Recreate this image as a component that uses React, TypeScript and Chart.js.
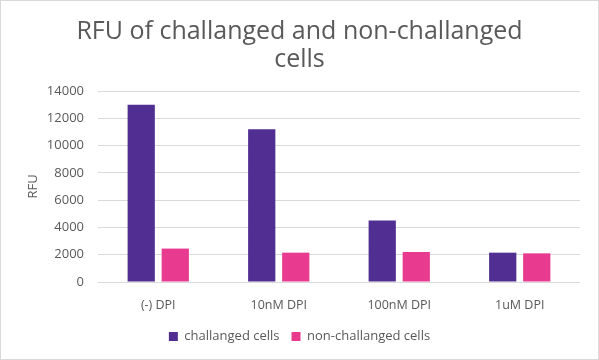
import React, { useEffect, useRef } from "react";
import { Chart, registerables } from "chart.js";

Chart.register(...registerables);

const categories = ["(-) DPI", "10nM DPI", "100nM DPI", "1uM DPI"];
const challanged = [13000, 11200, 4500, 2150];
const nonChallanged = [2450, 2150, 2200, 2100];
const yTicks = [0, 2000, 4000, 6000, 8000, 10000, 12000, 14000];

const FONT = "'Open Sans', 'Noto Sans', sans-serif";
const TEXT = "#595959";

export default function App() {
  const ref = useRef<HTMLCanvasElement | null>(null);
  useEffect(() => {
    document.body.style.margin = "0";
    const ctx = ref.current!;
    const chart = new Chart(ctx, {
      type: "bar",
      data: {
        labels: categories,
        datasets: [
          {
            label: "challanged cells",
            data: challanged,
            backgroundColor: "#512E91",
            categoryPercentage: 0.565,
            barPercentage: 0.8,
          },
          {
            label: "non-challanged cells",
            data: nonChallanged,
            backgroundColor: "#E83A8F",
            categoryPercentage: 0.565,
            barPercentage: 0.8,
          },
        ],
      },
      options: {
        animation: false,
        responsive: false,
        maintainAspectRatio: false,
        layout: { padding: { left: 0, right: 0, top: 0, bottom: 6 } },
        plugins: {
          title: {
            display: true,
            text: ["RFU of challanged and non-challanged", "cells"],
            color: TEXT,
            font: { family: FONT, size: 25, weight: "normal", lineHeight: 1.12 },
            padding: { top: 17, bottom: 17 },
          },
          legend: {
            position: "bottom",
            labels: {
              color: TEXT,
              font: { family: FONT, size: 13 },
              boxWidth: 9,
              boxHeight: 9,
              padding: 12,
            },
          },
          tooltip: { enabled: false },
        },
        scales: {
          x: {
            grid: { display: false },
            border: { display: false },
            ticks: { color: TEXT, font: { family: FONT, size: 12.5 }, padding: 8 },
            afterFit: (s: any) => {
              s.height = 36;
            },
          },
          y: {
            min: 0,
            max: 14000,
            afterBuildTicks: (s: any) => {
              s.ticks = yTicks.map((v) => ({ value: v }));
            },
            grid: { color: "#D9D9D9", lineWidth: 1, drawTicks: false },
            border: { display: false },
            ticks: {
              color: TEXT,
              font: { family: FONT, size: 13 },
              padding: 14,
              callback: (v: any) => String(v),
            },
            title: {
              display: true,
              text: "RFU",
              color: TEXT,
              font: { family: FONT, size: 13 },
              padding: { top: 24, bottom: 0 },
            },
            afterFit: (s: any) => {
              s.width = 97;
            },
          },
          yRight: {
            position: "right",
            min: 0,
            max: 14000,
            grid: { display: false, drawTicks: false },
            border: { display: false },
            ticks: { display: false },
            afterFit: (s: any) => {
              s.width = 18;
            },
          },
        },
      },
    });
    return () => chart.destroy();
  }, []);
  return (
    <div
      style={{
        position: "absolute",
        left: 0,
        top: 0,
        width: 599,
        height: 360,
        boxSizing: "border-box",
        border: "1px solid #D9D9D9",
        background: "#fff",
      }}
    >
      <canvas ref={ref} width={597} height={358} style={{ display: "block" }} />
    </div>
  );
}
